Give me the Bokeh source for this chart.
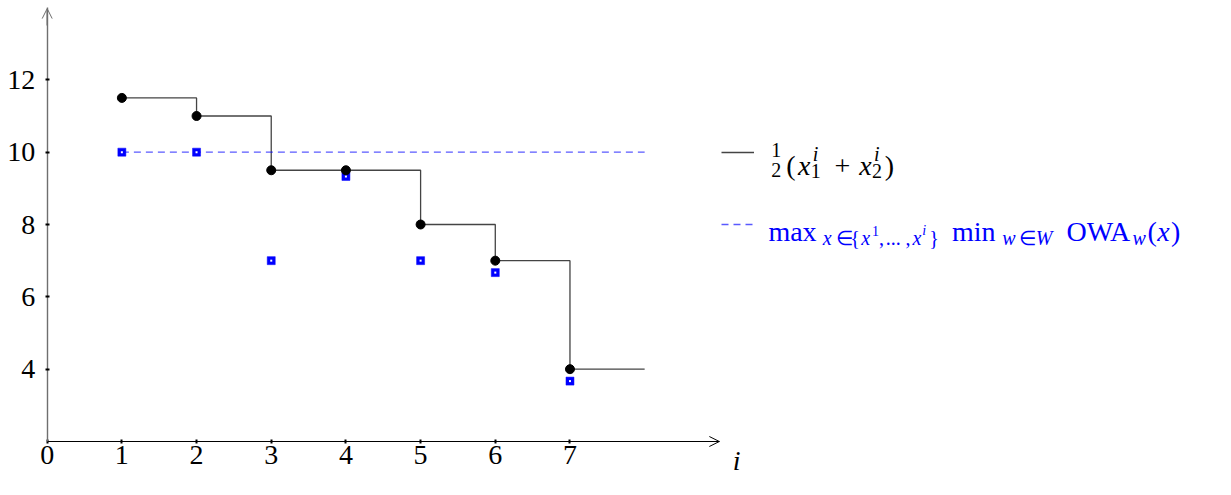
from bokeh.plotting import figure
from bokeh.models import (LinearAxis, FixedTicker, Arrow, OpenHead, Range1d,
                          Legend, LegendItem, Grid)
from bokeh.core.properties import value
from bokeh.embed import file_html
from bokeh.resources import INLINE

# ---------------- data ----------------
iterations = [1, 2, 3, 4, 5, 6, 7]
mean_values = [11.5, 11.0, 9.5, 9.5, 8.0, 7.0, 4.0]      # 1/2 (x1^i + x2^i)
owa_values = [10.0, 10.0, 7.0, 9.33, 7.0, 6.67, 3.67]    # min_w OWA_w(x^i)
last_x = 8
x_ticks = [0, 1, 2, 3, 4, 5, 6, 7]
y_ticks = [4, 6, 8, 10, 12]
x_axis_end = 9
y_axis_start = 2
y_axis_end = 14

# ---------------- geometry ----------------
W, H = 1215, 479
REF_PX_X = 75.667      # reference px per x unit, x=0 at ref px 47.3
REF_PX_Y = 37.875      # reference px per y unit, y=12 at ref px 83
x_lo = -47.3 / REF_PX_X
x_hi = x_lo + 1231 / REF_PX_X
PX_Y = (441 - 7) / (y_axis_end - y_axis_start)
y_hi = y_axis_end + 7 / PX_Y
y_lo = y_hi - H / PX_Y


def rx(px):   # reference pixel -> data x
    return (px - 47.3) / REF_PX_X


def ry(py):   # reference pixel -> data y
    return 12 - (py - 83) / REF_PX_Y


FONT = "Liberation Serif"

p = figure(width=W, height=H, x_range=Range1d(x_lo, x_hi), y_range=Range1d(y_lo, y_hi),
           output_backend="svg", toolbar_location=None,
           x_axis_location=None, y_axis_location=None, min_border=0, title=None)
p.outline_line_color = None
p.background_fill_color = "white"
p.border_fill_color = "white"
for r in list(p.center):
    if isinstance(r, Grid):
        r.visible = False


def style_axis(ax):
    ax.axis_line_color = "black"
    ax.axis_line_width = 1
    ax.major_tick_line_color = "black"
    ax.major_tick_line_width = 2
    ax.major_tick_in = 2
    ax.major_tick_out = 2
    ax.minor_tick_line_color = None
    ax.major_label_text_font = FONT
    ax.major_label_text_font_size = "28px"
    ax.major_label_text_color = "black"


xaxis = LinearAxis(fixed_location=y_axis_start, bounds=(0, x_axis_end),
                   ticker=FixedTicker(ticks=x_ticks))
style_axis(xaxis)
xaxis.major_label_standoff = 2
p.add_layout(xaxis, "below")

yaxis = LinearAxis(fixed_location=0, bounds=(y_axis_start, y_axis_end),
                   ticker=FixedTicker(ticks=y_ticks))
style_axis(yaxis)
yaxis.axis_line_color = "#6f6f6f"
yaxis.axis_line_width = 1.4
yaxis.major_label_standoff = 10
p.add_layout(yaxis, "left")

p.add_layout(Arrow(end=OpenHead(size=10, line_width=1, line_color="black"),
                   x_start=x_axis_end - 0.3, y_start=y_axis_start,
                   x_end=x_axis_end, y_end=y_axis_start, line_width=1, line_color="black"))
p.add_layout(Arrow(end=OpenHead(size=10, line_width=1, line_color="#6f6f6f"),
                   x_start=0, y_start=y_axis_end - 0.5,
                   x_end=0, y_end=y_axis_end - 0.03, line_width=1.4, line_color="#6f6f6f"))


def put(text, px, py, size, italic=False, color="black"):
    p.text(x=[rx(px)], y=[ry(py)], text=[text], text_font=value(FONT),
           text_font_size=value(f"{size}px"),
           text_font_style="italic" if italic else "normal",
           text_color=color, text_baseline="alphabetic", text_align="left")


put("i", 742, 482, 28, True)

# ---------------- series ----------------
step_x = iterations + [last_x]
step_y = mean_values + [mean_values[-1]]
r_step = p.step(step_x, step_y, mode="after", line_color="#444444", line_width=1.3)

best = max(owa_values)
r_dash = p.line([iterations[0], last_x], [best, best], line_color="blue", line_alpha=0.65,
                line_width=1.4, line_dash="7 5")

p.scatter(iterations, owa_values, marker="square", size=8, fill_color="blue",
          line_color="blue", line_width=0.5)
p.scatter(iterations, owa_values, marker="square", size=2, fill_color="white",
          line_color=None)
p.scatter(iterations, mean_values, marker="circle", size=9, fill_color="black",
          line_color="black")

# ---------------- legend ----------------
sy10 = (y_hi - 10) * PX_Y
sy8 = (y_hi - 8) * PX_Y
gh = 20
legend = Legend(items=[LegendItem(label=" ", renderers=[r_step]),
                       LegendItem(label=" ", renderers=[r_dash])],
                location=(round(730 * W / 1231), round(H - (sy8 + gh / 2))),
                glyph_width=33, glyph_height=gh, label_height=gh, label_width=0,
                label_standoff=0, label_text_font_size="8px",
                spacing=round(sy8 - sy10 - gh), padding=0, margin=0,
                border_line_color=None, background_fill_alpha=0)
p.add_layout(legend, "center")

legend1 = [("1", 781, 157, 20, False), ("2", 781, 177, 20, False),
           ("(", 796, 173, 28, False), ("x", 808, 173, 28, True),
           ("i", 823, 161, 20, True), ("1", 821, 178, 20, False),
           ("+", 845, 173, 28, False), ("x", 870, 173, 28, True),
           ("i", 885, 161, 20, True), ("2", 883, 178, 20, False),
           (")", 896, 173, 28, False)]
legend2 = [("max", 778, 242, 28, False), ("x", 833, 249, 20, True),
           ("\u2208", 846, 249, 20, False), ("{", 861, 249, 20, False),
           ("x", 872, 249, 20, True), ("1", 883, 241, 14, False),
           (",", 890, 249, 20, False), ("...", 897, 249, 20, False),
           (",", 917, 249, 20, False), ("x", 924, 249, 20, True),
           ("i", 934, 241, 14, True), ("}", 941, 249, 20, False),
           ("min", 964, 242, 28, False), ("w", 1015, 249, 20, True),
           ("\u2208", 1032, 249, 20, False), ("W", 1049, 249, 20, True),
           ("OWA", 1080, 242, 28, False), ("w", 1147, 249, 20, True),
           ("(", 1162, 242, 28, False), ("x", 1172, 242, 28, True),
           (")", 1186, 242, 28, False)]
for t in legend1:
    put(*t, color="black")
for t in legend2:
    put(*t, color="blue")

open("out.html", "w").write(file_html(p, INLINE))
